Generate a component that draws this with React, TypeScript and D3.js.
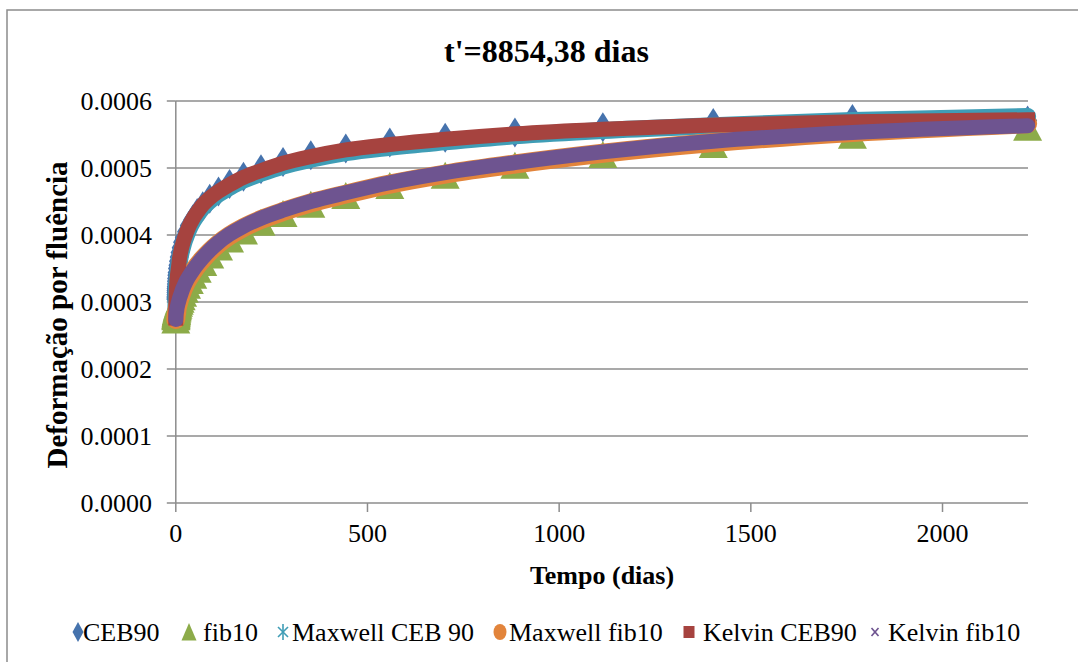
import React from "react";
import * as d3 from "d3";

// Time since loading (days)
const times = [
  0, 0.222, 0.28, 0.352, 0.443, 0.558, 0.703, 0.885, 1.11, 1.4, 1.77, 2.22, 2.8, 3.52,
  4.43, 5.58, 7.03, 8.85, 11.1, 14.0, 17.65, 22.2, 28.0, 35.2, 44.3, 55.8, 70.3, 88.5,
  111.4, 140.2, 176.5, 222.2, 279.7, 352.2, 443.4, 558.2, 702.7, 884.6, 1114, 1402, 1765, 2222,
];

// Creep strain, in units of 1e-4
const ceb90 = [
  2.76, 3.04, 3.06, 3.08, 3.11, 3.14, 3.17, 3.2, 3.23, 3.27, 3.31, 3.35, 3.4, 3.44,
  3.5, 3.55, 3.61, 3.67, 3.74, 3.81, 3.89, 3.96, 4.05, 4.14, 4.23, 4.33, 4.43, 4.54,
  4.65, 4.76, 4.87, 4.98, 5.09, 5.19, 5.29, 5.38, 5.45, 5.53, 5.61, 5.67, 5.73, 5.71,
];
const fib10 = [
  2.73, 2.78, 2.79, 2.795, 2.8, 2.81, 2.82, 2.83, 2.84, 2.85, 2.86, 2.87, 2.89, 2.91,
  2.93, 2.95, 2.98, 3.01, 3.04, 3.08, 3.13, 3.19, 3.25, 3.32, 3.4, 3.49, 3.59, 3.7,
  3.82, 3.94, 4.06, 4.19, 4.32, 4.46, 4.59, 4.74, 4.89, 5.04, 5.2, 5.35, 5.49, 5.61,
];
const maxwellCeb90 = [
  2.76, 2.88, 2.91, 2.94, 2.97, 3.0, 3.03, 3.06, 3.1, 3.14, 3.18, 3.22, 3.27, 3.32,
  3.37, 3.42, 3.48, 3.58, 3.66, 3.74, 3.82, 3.91, 4.0, 4.1, 4.2, 4.3, 4.41, 4.51,
  4.61, 4.71, 4.82, 4.92, 5.03, 5.13, 5.23, 5.31, 5.39, 5.48, 5.56, 5.63, 5.71, 5.77,
];
const maxwellFib10 = [
  2.74, 2.755, 2.76, 2.765, 2.77, 2.78, 2.79, 2.8, 2.81, 2.82, 2.83, 2.84, 2.87, 2.9,
  2.92, 2.95, 2.98, 3.02, 3.06, 3.11, 3.17, 3.23, 3.3, 3.37, 3.45, 3.54, 3.64, 3.75,
  3.87, 3.99, 4.11, 4.23, 4.35, 4.48, 4.61, 4.76, 4.91, 5.06, 5.22, 5.38, 5.53, 5.66,
];
const kelvinCeb90 = [
  2.76, 2.92, 2.95, 2.98, 3.01, 3.04, 3.07, 3.1, 3.14, 3.18, 3.22, 3.26, 3.31, 3.36,
  3.41, 3.46, 3.52, 3.62, 3.7, 3.78, 3.86, 3.95, 4.04, 4.14, 4.24, 4.34, 4.45, 4.55,
  4.65, 4.75, 4.86, 4.96, 5.07, 5.17, 5.27, 5.35, 5.43, 5.51, 5.58, 5.64, 5.69, 5.72,
];
const kelvinFib10 = [
  2.74, 2.775, 2.78, 2.785, 2.79, 2.8, 2.81, 2.82, 2.83, 2.84, 2.85, 2.86, 2.89, 2.92,
  2.94, 2.97, 3.0, 3.04, 3.08, 3.13, 3.19, 3.25, 3.32, 3.39, 3.47, 3.56, 3.66, 3.77,
  3.89, 4.01, 4.13, 4.25, 4.37, 4.5, 4.63, 4.78, 4.93, 5.08, 5.24, 5.4, 5.53, 5.63,
];

const xTicks = [0, 500, 1000, 1500, 2000];
const yTicks = [0, 1, 2, 3, 4, 5, 6];
const X_MAX = 2223;
const Y_MAX = 6;

const TITLE = "t'=8854,38 dias";
const X_TITLE = "Tempo (dias)";
const Y_TITLE = "Deformação por fluência";

const C = {
  blue: "#4673AD",
  green: "#8CAB49",
  teal: "#3F9DB6",
  orange: "#E2843B",
  red: "#A6433F",
  purple: "#6E5490",
  grid: "#8C8C8C",
};

const FONT = "'Liberation Serif', 'Times New Roman', serif";

const legendItems = [
  { label: "CEB90", marker: "diamond", color: C.blue, mx: 78, tx: 83 },
  { label: "fib10", marker: "triangle", color: C.green, mx: 189, tx: 203 },
  { label: "Maxwell CEB 90", marker: "star", color: C.teal, mx: 283, tx: 292 },
  { label: "Maxwell fib10", marker: "circle", color: C.orange, mx: 500, tx: 509 },
  { label: "Kelvin CEB90", marker: "square", color: C.red, mx: 689, tx: 703 },
  { label: "Kelvin fib10", marker: "x", color: C.purple, mx: 875, tx: 888 },
];

function LegendMarker({ kind, color, cx, cy }: { kind: string; color: string; cx: number; cy: number }) {
  switch (kind) {
    case "diamond":
      return <path d={`M${cx},${cy - 10}L${cx + 5.5},${cy}L${cx},${cy + 10}L${cx - 5.5},${cy}Z`} fill={color} />;
    case "triangle":
      return <path d={`M${cx},${cy - 9}L${cx + 7.5},${cy + 8.5}L${cx - 7.5},${cy + 8.5}Z`} fill={color} />;
    case "star":
      return (
        <g stroke={color} strokeWidth={1.6}>
          <line x1={cx} y1={cy - 8} x2={cx} y2={cy + 8} />
          <line x1={cx - 5} y1={cy - 5} x2={cx + 5} y2={cy + 5} />
          <line x1={cx + 5} y1={cy - 5} x2={cx - 5} y2={cy + 5} />
        </g>
      );
    case "circle":
      return <ellipse cx={cx} cy={cy} rx={6.5} ry={8} fill={color} />;
    case "square":
      return <rect x={cx - 5.5} y={cy - 6} width={11} height={12} fill={color} />;
    default:
      return (
        <g stroke={color} strokeWidth={1.6}>
          <line x1={cx - 3.5} y1={cy - 4} x2={cx + 3.5} y2={cy + 4} />
          <line x1={cx + 3.5} y1={cy - 4} x2={cx - 3.5} y2={cy + 4} />
        </g>
      );
  }
}

export default function App() {
  const W = 1078;
  const H = 662;
  const plot = { left: 175.8, right: 1028, top: 101, bottom: 503 };

  const x = d3.scaleLinear().domain([0, X_MAX]).range([plot.left, plot.right]);
  const y = d3.scaleLinear().domain([0, Y_MAX]).range([plot.bottom, plot.top]);

  const line = d3
    .line<number>()
    .x((_, i) => x(times[i]))
    .y((v) => y(v))
    .curve(d3.curveMonotoneX);

  const diamond = (cx: number, cy: number) =>
    `M${cx},${cy - 15}L${cx + 9.5},${cy}L${cx},${cy + 15}L${cx - 9.5},${cy}Z`;
  const triangle = (cx: number, cy: number) =>
    `M${cx},${cy - 13.5}L${cx + 14.5},${cy + 13.5}L${cx - 14.5},${cy + 13.5}Z`;

  const legendY = 632;

  return (
    <div style={{ position: "fixed", left: 0, top: 0 }}>
      <svg width={W} height={H} style={{ display: "block", background: "#fff" }} fontFamily={FONT}>
        {/* chart area frame */}
        <rect x={7} y={10} width={1200} height={800} fill="#fff" stroke={C.grid} strokeWidth={1.5} />

        {/* title */}
        <text x={546.5} y={62} textAnchor="middle" fontSize={32} fontWeight="bold" fill="#000">
          {TITLE}
        </text>

        {/* horizontal gridlines */}
        {yTicks.map((t) => (
          <line key={`g${t}`} x1={plot.left} x2={plot.right} y1={y(t)} y2={y(t)} stroke={C.grid} strokeWidth={1.5} />
        ))}

        {/* y axis */}
        <line x1={plot.left} x2={plot.left} y1={plot.top} y2={plot.bottom} stroke={C.grid} strokeWidth={1.5} />
        {yTicks.map((t) => (
          <g key={`yt${t}`}>
            <line x1={plot.left - 9} x2={plot.left} y1={y(t)} y2={y(t)} stroke={C.grid} strokeWidth={1.5} />
            <text x={152} y={y(t) + 9} textAnchor="end" fontSize={26} fill="#000">
              {(t * 1e-4).toFixed(4)}
            </text>
          </g>
        ))}

        {/* x axis */}
        {xTicks.map((t) => (
          <g key={`xt${t}`}>
            <line x1={x(t)} x2={x(t)} y1={plot.bottom} y2={plot.bottom + 9} stroke={C.grid} strokeWidth={1.5} />
            <text x={x(t)} y={542} textAnchor="middle" fontSize={26} fill="#000">
              {t}
            </text>
          </g>
        ))}

        {/* axis titles */}
        <text x={602} y={584} textAnchor="middle" fontSize={26} fontWeight="bold" fill="#000">
          {X_TITLE}
        </text>
        <text
          transform={`translate(67,315) rotate(-90)`}
          textAnchor="middle"
          fontSize={29}
          fontWeight="bold"
          fill="#000"
        >
          {Y_TITLE}
        </text>

        {/* CEB90 */}
        {ceb90.map((v, i) => (
          <path key={`d${i}`} d={diamond(x(times[i]), y(v))} fill={C.blue} />
        ))}
        {/* fib10 */}
        {fib10.map((v, i) => (
          <path key={`t${i}`} d={triangle(x(times[i]), y(v))} fill={C.green} />
        ))}

        {/* fitted rheological models */}
        <path d={line(maxwellCeb90) || ""} fill="none" stroke={C.teal} strokeWidth={17} strokeLinecap="round" strokeLinejoin="round" />
        <path d={line(maxwellFib10) || ""} fill="none" stroke={C.orange} strokeWidth={19} strokeLinecap="round" strokeLinejoin="round" />
        <path d={line(kelvinCeb90) || ""} fill="none" stroke={C.red} strokeWidth={15} strokeLinecap="square" strokeLinejoin="round" />
        <path d={line(kelvinFib10) || ""} fill="none" stroke={C.purple} strokeWidth={15} strokeLinecap="round" strokeLinejoin="round" />

        {/* legend */}
        {legendItems.map((it) => (
          <g key={it.label}>
            <LegendMarker kind={it.marker} color={it.color} cx={it.mx} cy={legendY} />
            <text x={it.tx} y={legendY + 9} fontSize={26} fill="#000">
              {it.label}
            </text>
          </g>
        ))}
      </svg>
    </div>
  );
}
